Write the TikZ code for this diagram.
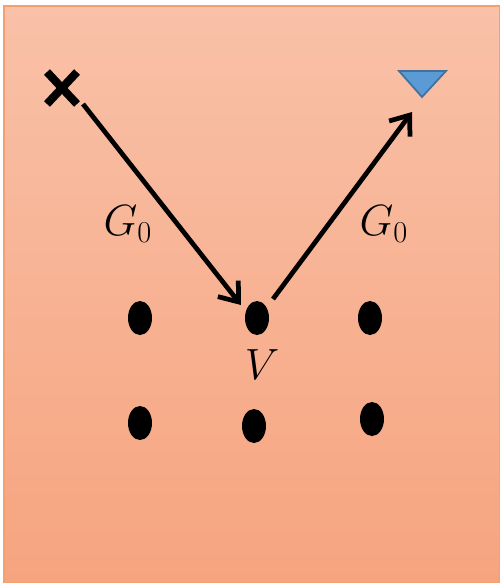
\documentclass[tikz,border=0pt]{standalone}
\usetikzlibrary{arrows.meta, shapes.geometric, calc}

\definecolor{bgtop}{HTML}{F9C1A8}
\definecolor{bgbot}{HTML}{F6A47F}
\definecolor{bgline}{HTML}{F4A070}
\definecolor{trifill}{HTML}{5B9BD5}
\definecolor{triline}{HTML}{41719C}

\begin{document}
\begin{tikzpicture}[
    x=0.02cm, y=-0.02cm,
    site/.style={ellipse, fill=black, inner sep=0pt, minimum width=0.48cm, minimum height=0.68cm},
    lbl/.style={font=\fontsize{26}{31}\selectfont},
    arr/.style={-{Straight Barb[length=0.34cm, width=0.52cm]}, line width=2.7pt},
]
\useasboundingbox (0,0) rectangle (500,583);

% ── Background ───────────────────────────────────────────────────────────────
\shade[top color=bgtop, bottom color=bgbot, draw=bgline, line width=1.2pt] (4,6) rectangle (500,583);

% ── Source and detector ──────────────────────────────────────────────────────
\coordinate (src) at (62,88);
\draw[line width=4.6pt] ($(src)+(-15,-16)$) -- ($(src)+(15,16)$);
\draw[line width=4.6pt] ($(src)+(-15,16)$) -- ($(src)+(15,-16)$);
\coordinate (det) at (422,84);
\draw[fill=trifill, draw=triline, line width=1pt] (399,71) -- (446,71) -- (422,97) -- cycle;

% ── Lattice sites ────────────────────────────────────────────────────────────
\node[site] (s11) at (140,318) {};
\node[site] (s12) at (257,318) {};
\node[site] (s13) at (370,318) {};
\node[site] (s21) at (140,423) {};
\node[site] (s22) at (254,426) {};
\node[site] (s23) at (372,419) {};

% ── Propagators ──────────────────────────────────────────────────────────────
\coordinate (in1)  at (83,104);
\coordinate (in2)  at (241,305);
\coordinate (out1) at (273,299);
\coordinate (out2) at (412,112);
\draw[arr] (in1) -- (in2);
\draw[arr] (out1) -- (out2);

\node[lbl] (gin)  at (128,224) {$G_0$};
\node[lbl] (gout) at (384,224) {$G_0$};
\node[lbl] (pot)  at (262,365) {$V$};

\end{tikzpicture}
\end{document}
